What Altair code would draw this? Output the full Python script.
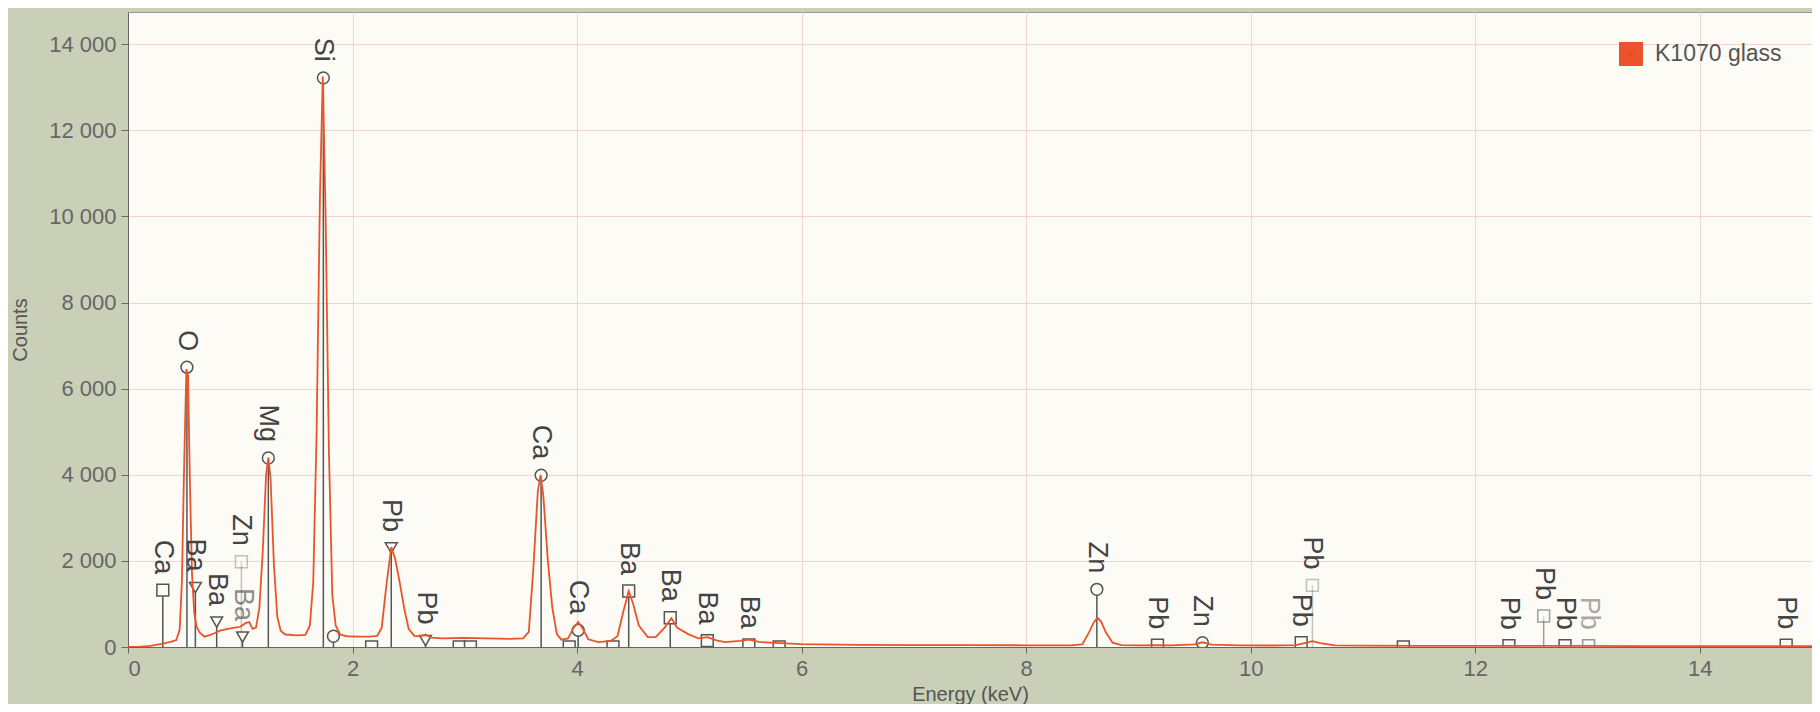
import altair as alt
import pandas as pd

# ---- spectrum ----
energy = [0.00, 0.10, 0.20, 0.30, 0.38, 0.43, 0.46, 0.48, 0.50, 0.52, 0.535, 0.55, 0.57, 0.59,
          0.61, 0.64, 0.68, 0.72, 0.77, 0.82, 0.89, 0.95, 1.00, 1.05, 1.08, 1.11, 1.14, 1.17,
          1.20, 1.23, 1.25, 1.27, 1.30, 1.33, 1.36, 1.40, 1.50, 1.58, 1.62, 1.65, 1.68, 1.71,
          1.735, 1.76, 1.79, 1.82, 1.85, 1.89, 1.95, 2.05, 2.15, 2.22, 2.26, 2.30, 2.345, 2.38,
          2.42, 2.46, 2.50, 2.55, 2.60, 2.65, 2.70, 2.80, 3.00, 3.20, 3.40, 3.52, 3.57, 3.61,
          3.65, 3.675, 3.70, 3.74, 3.78, 3.82, 3.86, 3.92, 3.97, 4.01, 4.05, 4.10, 4.19, 4.30,
          4.36, 4.41, 4.46, 4.50, 4.55, 4.63, 4.70, 4.78, 4.84, 4.89, 4.99, 5.08, 5.16, 5.25,
          5.32, 5.45, 5.53, 5.62, 5.80, 6.00, 6.50, 7.00, 7.50, 8.00, 8.40, 8.50, 8.56, 8.60,
          8.635, 8.67, 8.71, 8.77, 8.85, 9.00, 9.15, 9.30, 9.50, 9.57, 9.65, 9.90, 10.20, 10.40,
          10.50, 10.55, 10.62, 10.75, 11.00, 11.50, 12.00, 12.50, 13.00, 13.50, 14.00, 14.50, 15.00]
counts = [0, 5, 25, 70, 120, 160, 400, 1500, 4200, 6450, 6300, 4000, 1700, 800,
          480, 330, 240, 270, 320, 380, 420, 450, 470, 560, 580, 420, 450, 900,
          2200, 4000, 4400, 3900, 1900, 700, 380, 290, 270, 280, 500, 1500, 5000, 10500,
          13250, 10000, 4500, 1200, 500, 290, 250, 240, 240, 260, 450, 1400, 2320, 2050,
          1500, 900, 420, 260, 250, 290, 220, 200, 210, 200, 190, 200, 350, 1800,
          3600, 4000, 3500, 2000, 900, 300, 170, 200, 450, 580, 430, 180, 115, 140,
          250, 800, 1300, 1000, 500, 230, 230, 450, 670, 450, 300, 200, 230, 150,
          115, 140, 170, 120, 90, 65, 50, 45, 45, 40, 40, 60, 340, 560,
          680, 580, 340, 100, 45, 40, 45, 40, 60, 110, 55, 40, 35, 45,
          100, 135, 90, 40, 30, 25, 25, 25, 25, 20, 20, 20, 18]
series_name = "K1070 glass"

# ---- element line markers ----
peak_energy = [0.31, 0.525, 0.60, 0.79, 1.01, 1.02, 1.25, 1.74, 1.83, 2.345, 2.65, 3.68, 4.01,
               4.46, 4.83, 5.16, 5.53, 8.63, 9.17, 9.57, 10.45, 10.55, 12.30, 12.61, 12.80,
               13.01, 14.77,
               2.17, 2.95, 3.05, 3.93, 4.32, 5.80, 11.36]
peak_height = [1320, 6500, 1380, 580, 1980, 230, 4390, 13220, 250, 2300, 150, 3990, 390,
               1300, 680, 150, 50, 1340, 40, 100, 100, 1430, 30, 720, 30,
               30, 40,
               0, 0, 0, 0, 0, 0, 0]
peak_label = ["Ca", "O", "Ba", "Ba", "Zn", "Ba", "Mg", "Si", "", "Pb", "Pb", "Ca", "Ca",
              "Ba", "Ba", "Ba", "Ba", "Zn", "Pb", "Zn", "Pb", "Pb", "Pb", "Pb", "Pb",
              "Pb", "Pb",
              "", "", "", "", "", "", ""]
peak_shape = ["square", "circle", "triangle-down", "triangle-down", "square", "triangle-down",
              "circle", "circle", "circle", "triangle-down", "triangle-down", "circle", "circle",
              "square", "square", "square", "square", "circle", "square", "circle", "square",
              "square", "square", "square", "square", "square", "square",
              "square", "square", "square", "square", "square", "square", "square"]
peak_marker_alpha = [1, 1, 1, 1, 0.35, 1, 1, 1, 1, 1, 1, 1, 1,
                     1, 1, 1, 1, 1, 1, 1, 1, 0.35, 1, 0.55, 1,
                     0.6, 1,
                     1, 1, 1, 1, 1, 1, 1]
peak_label_alpha = [1, 1, 1, 1, 1, 0.6, 1, 1, 1, 1, 1, 1, 1,
                    1, 1, 1, 1, 1, 1, 1, 1, 1, 1, 1, 1,
                    0.45, 1,
                    1, 1, 1, 1, 1, 1, 1]

spec_df = pd.DataFrame({"energy": energy, "counts": counts, "series": series_name})
peak_df = pd.DataFrame({
    "energy": peak_energy, "height": peak_height, "label": peak_label,
    "shape": peak_shape, "malpha": peak_marker_alpha, "lalpha": peak_label_alpha,
})

FONT = "Liberation Sans"
x_scale = alt.Scale(domain=[0, 15], nice=False, zero=False)
y_scale = alt.Scale(domain=[0, 14750], nice=False)

x_axis = alt.Axis(values=[0, 2, 4, 6, 8, 10, 12, 14], title="Energy (keV)", format="d",
                  tickSize=6, labelPadding=5, labelFontSize=22, titleFontSize=20,
                  titleFontWeight="normal", titleBaseline="alphabetic", titleY=53)
y_axis = alt.Axis(values=[0, 2000, 4000, 6000, 8000, 10000, 12000, 14000], title="Counts",
                  labelExpr="replace(format(datum.value, ','), ',', ' ')",
                  tickSize=7, labelPadding=5, labelFontSize=22, titleFontSize=20,
                  titleFontWeight="normal", titleX=-98)

rules = alt.Chart(peak_df).mark_rule(color="#555555", strokeWidth=1.5).encode(
    x=alt.X("energy:Q", scale=x_scale, axis=x_axis),
    y=alt.Y("height:Q", scale=y_scale, axis=y_axis),
    y2=alt.Y2(datum=0),
    opacity=alt.Opacity("malpha:Q", scale=None),
)

markers = alt.Chart(peak_df).mark_point(
    filled=True, fill="#fdfbf5", stroke="#555555", strokeWidth=1.5, size=140, clip=True
).encode(
    x=alt.X("energy:Q", scale=x_scale),
    y=alt.Y("height:Q", scale=y_scale),
    shape=alt.Shape("shape:N", scale=None),
    opacity=alt.Opacity("malpha:Q", scale=None),
)

spectrum = alt.Chart(spec_df).mark_line(strokeWidth=1.8, clip=True).encode(
    x=alt.X("energy:Q", scale=x_scale),
    y=alt.Y("counts:Q", scale=y_scale),
    color=alt.Color("series:N",
                    scale=alt.Scale(domain=[series_name], range=["#eb532a"]),
                    legend=alt.Legend(title=None, orient="top-right", offset=28,
                                      symbolType="square", symbolSize=196,
                                      symbolStrokeWidth=10, symbolFillColor="#f8461b",
                                      symbolStrokeColor="#f8461b",
                                      labelFontSize=23, labelColor="#555555",
                                      labelFont=FONT, labelOffset=12, padding=2)),
)

labels = alt.Chart(peak_df).mark_text(
    angle=90, align="right", baseline="middle", dx=-16, fontSize=27, font=FONT,
    color="#444444"
).encode(
    x=alt.X("energy:Q", scale=x_scale),
    y=alt.Y("height:Q", scale=y_scale),
    text="label:N",
    opacity=alt.Opacity("lalpha:Q", scale=None),
)

chart = alt.layer(rules, markers, spectrum, labels).properties(
    width=1684, height=635,
    autosize=alt.AutoSizeParams(type="none"),
    padding={"left": 120, "top": 4, "right": 0, "bottom": 57},
    background="#cacfb7",
).configure_view(
    fill="#fdfbf5", stroke="#9a9a9a", strokeWidth=1
).configure_axis(
    domainColor="#666666", tickColor="#666666", labelColor="#666666",
    titleColor="#555555", gridColor="#f2d4ca", labelFont=FONT, titleFont=FONT,
)

chart.save("out.html", embed_options={"renderer": "svg", "actions": False})
